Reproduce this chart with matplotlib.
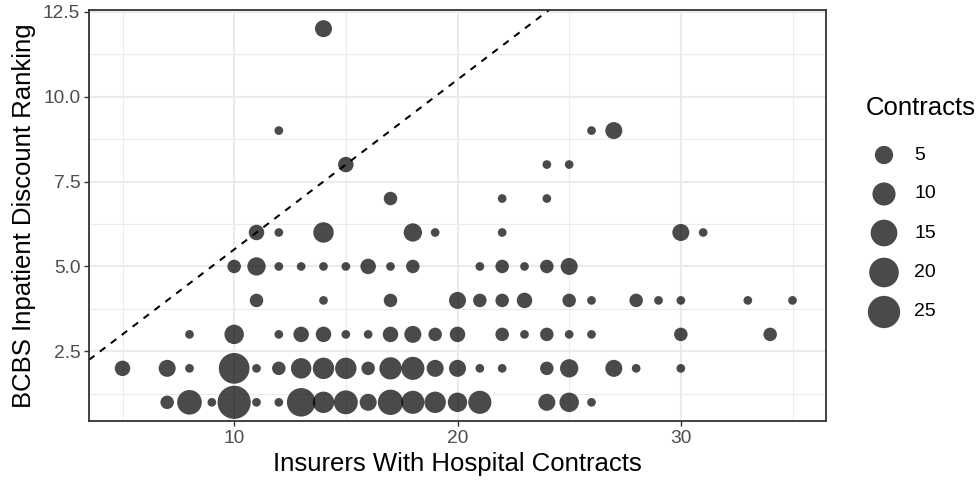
import numpy as np
import matplotlib
matplotlib.use("Agg")
import matplotlib.pyplot as plt

plt.rcParams['font.family'] = ['Liberation Sans', 'DejaVu Sans']

# Number of insurers with hospital contracts (x), BCBS inpatient discount rank (y),
# and the number of contracts observed at each combination (point size).
insurers = [14,
            12, 26, 27,
            15, 24, 25,
            17, 22, 24,
            11, 12, 14, 18, 19, 22, 30, 31,
            10, 11, 12, 13, 14, 15, 16, 17, 18, 21, 22, 23, 24, 25,
            11, 14, 17, 20, 21, 22, 23, 25, 26, 28, 29, 30, 33, 35,
            8, 10, 12, 13, 14, 15, 16, 17, 18, 19, 20, 22, 23, 24, 25, 26, 30, 34,
            5, 7, 8, 10, 11, 12, 13, 14, 15, 16, 17, 18, 19, 20, 21, 22, 24, 25, 27, 28, 30,
            7, 8, 9, 10, 11, 12, 13, 14, 15, 16, 17, 18, 19, 20, 21, 24, 25, 26]
ranking = ([12] +
           [9] * 3 +
           [8] * 3 +
           [7] * 3 +
           [6] * 8 +
           [5] * 14 +
           [4] * 14 +
           [3] * 18 +
           [2] * 21 +
           [1] * 18)
contracts = [4,
             1, 1, 4,
             3, 1, 1,
             2, 1, 1,
             3, 1, 7, 5, 1, 1, 4, 1,
             2, 5, 1, 1, 1, 1, 3, 1, 2, 1, 2, 1, 2, 4,
             2, 1, 2, 4, 2, 2, 3, 2, 1, 2, 1, 1, 1, 1,
             1, 6, 1, 3, 3, 1, 1, 3, 4, 2, 3, 2, 1, 2, 1, 1, 2, 2,
             3, 4, 1, 22, 1, 2, 7, 8, 8, 2, 9, 10, 4, 4, 1, 1, 2, 5, 4, 1, 1,
             2, 12, 1, 27, 1, 1, 18, 8, 11, 4, 13, 10, 8, 6, 10, 4, 6, 1]

legend_values = [5, 10, 15, 20, 25]
x_ticks = [10, 20, 30]
y_ticks = [2.5, 5.0, 7.5, 10.0, 12.5]

DPI = 100
W, H = 976, 484

# area-proportional size scale (diameter in pixels)
d_min, d_max = 8.7, 33.2
v_min, v_max = min(contracts), max(contracts)


def marker_area(v):
    v = np.asarray(v, dtype=float)
    d = d_min + (d_max - d_min) * np.sqrt((v - v_min) / (v_max - v_min))
    d_pt = d * 72.0 / DPI
    return d_pt ** 2


point_color = (0, 0, 0, 0.71)
grid_color = '#EBEBEB'
dark = '#333333'
tick_text = '#4D4D4D'

fig = plt.figure(figsize=(W / DPI, H / DPI), dpi=DPI)
left, right, top, bottom = 89, 826, 10, 421
ax = fig.add_axes([left / W, 1 - bottom / H, (right - left) / W, (bottom - top) / H])

xmin, xmax = min(insurers), max(insurers)
ymin, ymax = min(ranking), max(ranking)
xpad = (xmax - xmin) * 0.05
ypad = (ymax - ymin) * 0.05
ax.set_xlim(xmin - xpad, xmax + xpad)
ax.set_ylim(ymin - ypad, ymax + ypad)

# grid
for xv in [5, 15, 25, 35]:
    ax.axvline(xv, color=grid_color, lw=0.75, zorder=0)
for yv in [1.25, 3.75, 6.25, 8.75, 11.25]:
    ax.axhline(yv, color=grid_color, lw=0.75, zorder=0)
for xv in x_ticks:
    ax.axvline(xv, color=grid_color, lw=1.45, zorder=0.5)
for yv in y_ticks:
    ax.axhline(yv, color=grid_color, lw=1.45, zorder=0.5)

ax.scatter(insurers, ranking, s=marker_area(contracts), color=point_color,
           linewidths=0, zorder=2)

ax.axline((0, 0.5), slope=0.5, color='black', lw=1.45,
          linestyle=(0, (3.4, 3.4)), zorder=3)

ax.set_xticks(x_ticks)
ax.set_xticklabels([str(t) for t in x_ticks])
ax.set_yticks(y_ticks)
ax.set_yticklabels([f"{t:.1f}" for t in y_ticks])
ax.tick_params(axis='both', which='major', length=3.8, width=1.0, color=dark,
               labelsize=13.8, labelcolor=tick_text, pad=2.5)
for sp in ax.spines.values():
    sp.set_color(dark)
    sp.set_linewidth(1.3)
    sp.set_zorder(4)

ax.set_xlabel("Insurers With Hospital Contracts", fontsize=18.5, color='black', labelpad=4)
ax.set_ylabel("BCBS Inpatient Discount Ranking", fontsize=18.5, color='black', labelpad=5)

# size legend
lax = fig.add_axes([0, 0, 1, 1])
lax.set_xlim(0, W)
lax.set_ylim(H, 0)
lax.axis('off')
lax.text(866, 108, "Contracts", fontsize=18.5, color='black', ha='left', va='center')
key_y = [155, 194, 233, 272.5, 312]
lax.scatter([884] * len(legend_values), key_y, s=marker_area(legend_values),
            color=point_color, linewidths=0)
for val, yy in zip(legend_values, key_y):
    lax.text(914, yy, str(val), fontsize=14, color='black', ha='left', va='center')

fig.savefig("out.png", dpi=DPI)
